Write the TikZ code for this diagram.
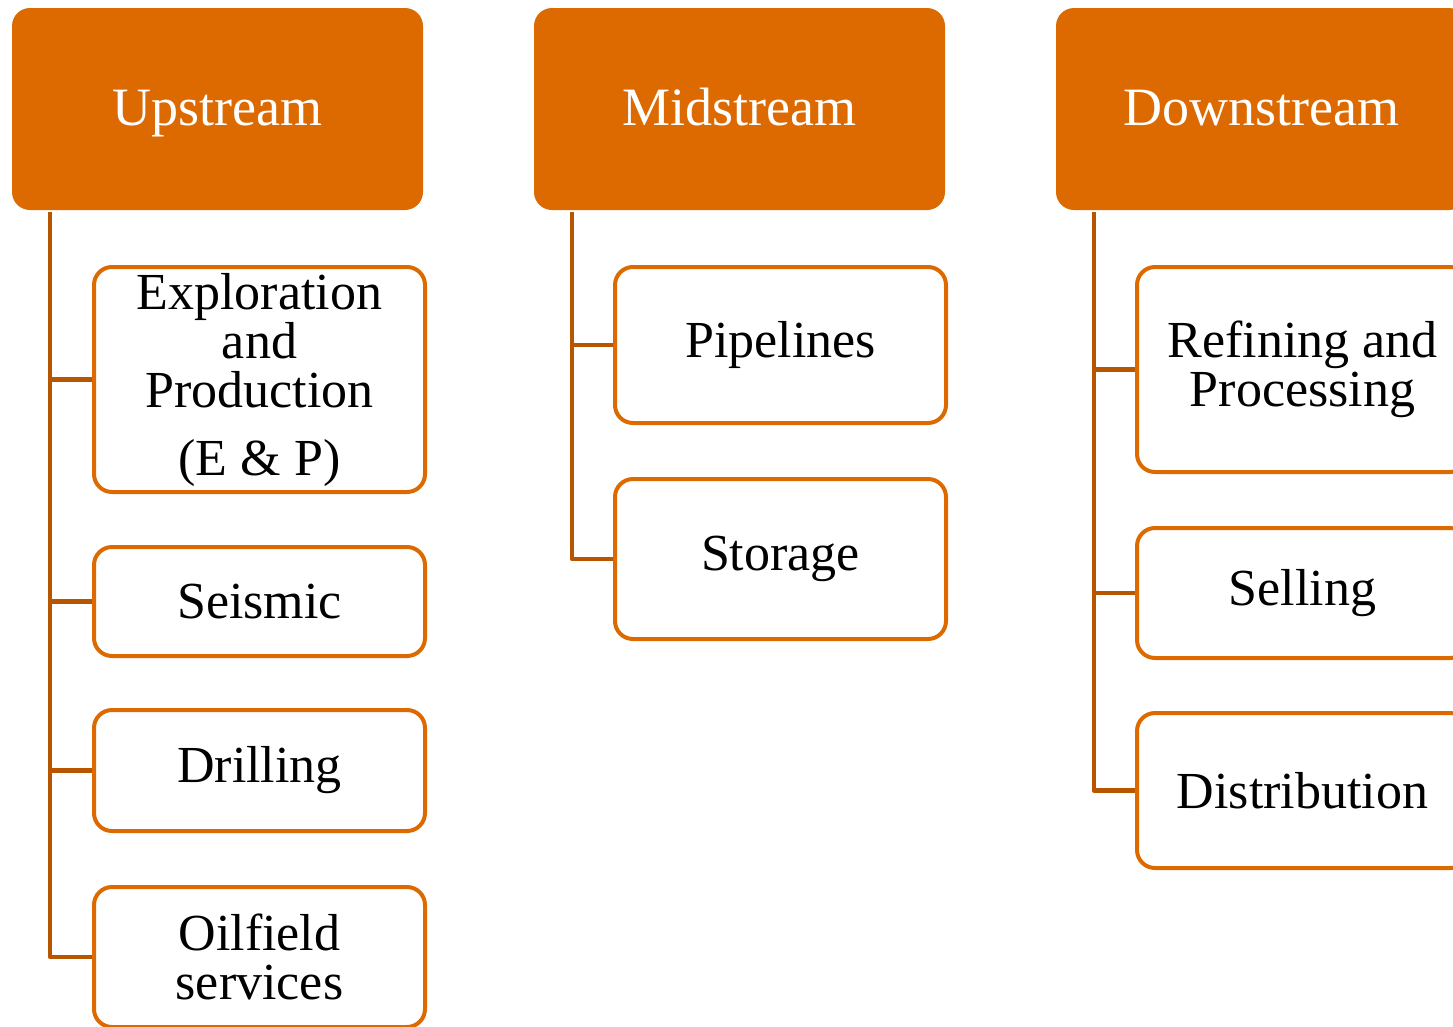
\documentclass[tikz,border=0pt]{standalone}
\usepackage{fontspec}
\setmainfont{Liberation Serif}
\usepackage{xcolor}
\usepackage{tikz}
\usetikzlibrary{calc}
\definecolor{streamorange}{HTML}{DD6A00}
\definecolor{branchbrown}{HTML}{B85600}

\tikzset{
  headbox/.style={fill=streamorange, rounded corners=18pt, inner sep=0pt,
    minimum width=411pt, minimum height=202pt, text=white,
    text height=44pt, text depth=12pt,
    font=\fontsize{54}{54}\selectfont},
  itembox/.style={fill=white, draw=streamorange, line width=4pt, rounded corners=18pt,
    inner sep=0pt, minimum width=331pt, text width=320pt, align=flush center,
    font=\fontsize{52}{49}\selectfont},
  branch/.style={draw=branchbrown, line width=4.5pt, line join=round}
}

\begin{document}
\begin{tikzpicture}[x=1pt, y=-1pt]
    \useasboundingbox (0,0) rectangle (1453,1026);
    \clip (0,0) rectangle (1453,1026);
    % heads
    \node[headbox] (up)   at (217.5,109)  {Upstream};
    \node[headbox] (mid)  at (739.5,109)  {Midstream};
    \node[headbox] (down) at (1261.5,109) {Downstream};
    \coordinate (upspine)   at (50,212);
    \coordinate (midspine)  at (572,212);
    \coordinate (downspine) at (1094,212);

    % upstream
    \node[itembox, minimum height=225pt] (ep)      at (259.5,379.5) {Exploration\\and\\Production\\[19pt](E \& P)};
    \node[itembox, minimum height=109pt] (seismic) at (259.5,601.5) {Seismic};
    \node[itembox, minimum height=121pt] (drill)   at (259.5,770.5) {Drilling};
    \node[itembox, minimum height=140pt] (oil)     at (259.5,957)   {Oilfield\\services};

    % midstream
    \node[itembox, minimum height=156pt] (pipe)  at (780.5,345) {Pipelines};
    \node[itembox, minimum height=160pt] (store) at (780.5,559) {Storage};

    % downstream
    \node[itembox, minimum height=205pt] (refine) at (1302.5,369.5) {Refining and\\Processing};
    \node[itembox, minimum height=130pt] (sell)   at (1302.5,593)   {Selling};
    \node[itembox, minimum height=155pt] (dist)   at (1302.5,790.5) {Distribution};

    % branches
    \draw[branch] (upspine) |- (oil.west);
    \foreach \item in {ep, seismic, drill}
      \draw[branch] (upspine |- \item.west) -- (\item.west);
    \draw[branch] (midspine) |- (store.west);
    \draw[branch] (midspine |- pipe.west) -- (pipe.west);
    \draw[branch] (downspine) |- (dist.west);
    \foreach \item in {refine, sell}
      \draw[branch] (downspine |- \item.west) -- (\item.west);
\end{tikzpicture}
\end{document}
